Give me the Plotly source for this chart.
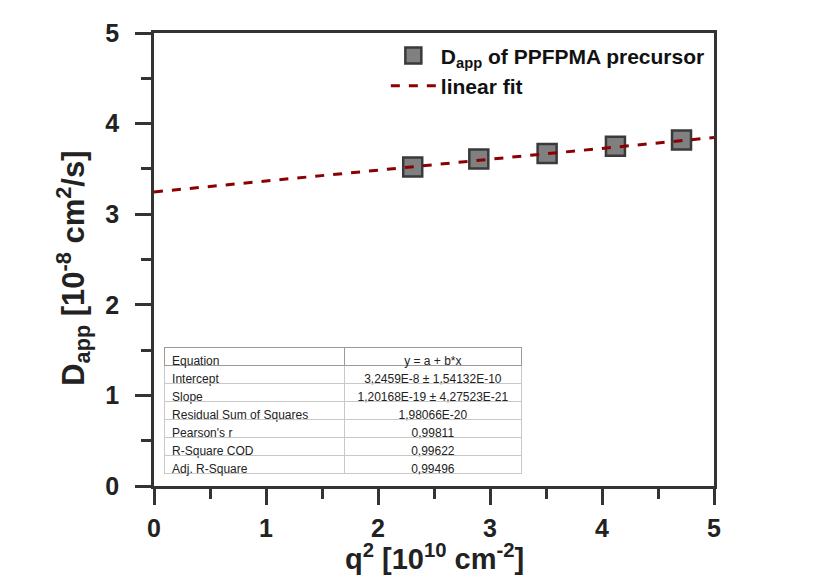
import plotly.graph_objects as go

# data
q2 = [2.31, 2.90, 3.51, 4.12, 4.71]
d_app = [3.52, 3.61, 3.67, 3.75, 3.82]
fit_x = [0.0, 5.0]
intercept = 3.2459
slope = 0.120168
fit_y = [intercept + slope * x for x in fit_x]

table_labels = ["Equation", "Intercept", "Slope", "Residual Sum of Squares",
                "Pearson's r", "R-Square COD", "Adj. R-Square"]
table_values = ["y = a + b*x", "3,2459E-8 ± 1,54132E-10", "1,20168E-19 ± 4,27523E-21",
                "1,98066E-20", "0,99811", "0,99622", "0,99496"]

nb = lambda s: s.replace(" ", "\u00a0")
labels_nb = [nb(s) for s in table_labels]
values_nb = [nb(s) for s in table_values]

AX = "#333333"
FONT = "Liberation Sans, Arial, sans-serif"

fig = go.Figure()
fig.add_trace(go.Scatter(
    x=q2, y=d_app, mode="markers", name="D<sub>app</sub> of PPFPMA precursor",
    marker=dict(symbol="square", size=19, color="#808080",
                line=dict(color="#3a3a3a", width=2.5)),
))
fig.add_trace(go.Scatter(
    x=fit_x, y=fit_y, mode="lines", name="linear fit",
    line=dict(color="#8b0000", width=3, dash="dash"),
))
fig.add_trace(go.Table(
    domain=dict(x=[0.018, 0.657], y=[0.012, 0.305]),
    columnwidth=[181, 177],
    header=dict(values=[labels_nb[0], values_nb[0]],
                align=["left", "center"], height=18,
                fill_color="rgba(255,255,255,0)", line=dict(color="#9a9a9a", width=1),
                font=dict(family=FONT, size=12, color="#222222")),
    cells=dict(values=[labels_nb[1:], values_nb[1:]],
               align=["left", "center"], height=18,
               fill_color="rgba(255,255,255,0)", line=dict(color="#c8c8c8", width=1),
               font=dict(family=FONT, size=12, color="#222222")),
))

axis_common = dict(
    showline=True, linecolor=AX, linewidth=2.5, mirror=True,
    ticks="outside", ticklen=16, tickwidth=2.5, tickcolor=AX,
    showgrid=False, zeroline=False,
    tickfont=dict(family=FONT, size=25, color="#222222"),
    minor=dict(ticks="outside", ticklen=10, tickwidth=2.5, tickcolor=AX, dtick=0.5),
    dtick=1, automargin=False,
)
fig.update_xaxes(range=[0, 5], ticklabelstandoff=2, **axis_common,
                 tickprefix="<b>", ticksuffix="</b>")
fig.update_yaxes(range=[0, 5], ticklabelstandoff=11,
                 title=dict(text="<b>D<sub>app</sub> [10<sup>-8</sup> cm<sup>2</sup>/s]\u00a0\u00a0</b>",
                            font=dict(family=FONT, size=31, color="#222222"), standoff=12),
                 tickprefix="<b>", ticksuffix="</b>", **axis_common)

# x-axis title as annotation for exact placement
fig.add_annotation(text="<b>q<sup>2</sup> [10<sup>10</sup> cm<sup>-2</sup>]</b>",
                   xref="paper", yref="paper", x=0.5, y=-0.157,
                   xanchor="center", yanchor="middle", showarrow=False,
                   font=dict(family=FONT, size=29, color="#222222"))

fig.update_layout(
    width=813, height=581,
    margin=dict(l=154, r=99, t=33, b=95),
    paper_bgcolor="white", plot_bgcolor="white",
    font=dict(family=FONT, color="#111111"),
    legend=dict(x=0.414, y=0.995, xanchor="left", yanchor="top",
                bgcolor="rgba(0,0,0,0)",
                font=dict(family=FONT, size=21, color="#111111", weight="bold"),
                itemwidth=45, tracegroupgap=0),
    showlegend=True,
)
fig.write_html("out.html")
